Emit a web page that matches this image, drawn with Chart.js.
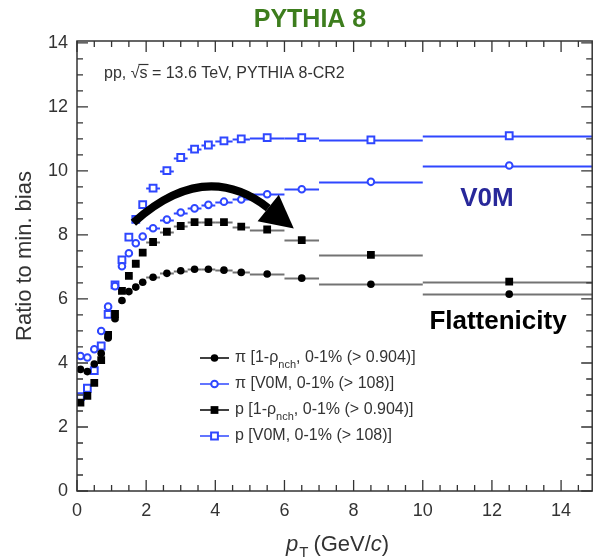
<!DOCTYPE html>
<html>
<head>
<meta charset="utf-8">
<script src="https://cdn.jsdelivr.net/npm/chart.js@4.4.0/dist/chart.umd.min.js"></script>
<style>
  html, body { margin: 0; padding: 0; background: #fff; }
  #caja { width: 599px; height: 557px; }
</style>
</head>
<body>
<div id="caja"><canvas id="miGrafica" width="599" height="557"></canvas></div>
<script>
// Bins de pT (GeV/c): centros y bordes
const ptCentros = [0.1, 0.3, 0.5, 0.7, 0.9, 1.1, 1.3, 1.5, 1.7, 1.9, 2.2, 2.6, 3.0, 3.4, 3.8, 4.25, 4.75, 5.5, 6.5, 8.5, 12.5];
const ptBordes = [0, 0.2, 0.4, 0.6, 0.8, 1.0, 1.2, 1.4, 1.6, 1.8, 2.0, 2.4, 2.8, 3.2, 3.6, 4.0, 4.5, 5.0, 6.0, 7.0, 10.0, 15.0];

// Cociente respecto a min. bias, una lista por serie
const piFlat = [3.80, 3.73, 3.97, 4.30, 4.78, 5.38, 5.95, 6.23, 6.37, 6.52, 6.68, 6.80, 6.88, 6.93, 6.93, 6.90, 6.83, 6.78, 6.65, 6.46, 6.15];
const piV0M = [4.22, 4.17, 4.43, 5.00, 5.76, 6.40, 7.02, 7.43, 7.74, 7.95, 8.21, 8.48, 8.70, 8.83, 8.94, 9.04, 9.11, 9.27, 9.43, 9.66, 10.17];
const pFlat = [2.76, 2.97, 3.38, 4.09, 4.88, 5.53, 6.25, 6.72, 7.10, 7.45, 7.78, 8.10, 8.28, 8.40, 8.40, 8.40, 8.26, 8.17, 7.84, 7.38, 6.54];
const pV0M = [2.95, 3.21, 3.76, 4.53, 5.52, 6.44, 7.22, 7.93, 8.49, 8.95, 9.46, 10.01, 10.42, 10.68, 10.81, 10.94, 11.00, 11.04, 11.04, 10.97, 11.10];

const ticksX = [0, 2, 4, 6, 8, 10, 12, 14];
const ticksY = [0, 2, 4, 6, 8, 10, 12, 14];

const etiquetas = [
  { pre: 'π [1-ρ', sub: 'nch', post: ', 0-1% (> 0.904)]' },
  { pre: 'π [V0M, 0-1% (> 108)]', sub: '', post: '' },
  { pre: 'p [1-ρ', sub: 'nch', post: ', 0-1% (> 0.904)]' },
  { pre: 'p [V0M, 0-1% (> 108)]', sub: '', post: '' }
];

const AZUL = '#2f47ff';
const NEGRO = '#000';
const FUENTE = "'Liberation Sans', Arial, Helvetica, sans-serif";

function puntos(valores) {
  return ptCentros.map((x, i) => ({ x: x, y: valores[i] }));
}

// Flecha curva (en unidades de los ejes)
const flecha = {
  inicio: [1.63, 8.38],
  control: [3.69, 10.39],
  fin: [5.53, 8.84],
  punta: [6.27, 8.20]
};

const series = [
  { data: puntos(piFlat), pointStyle: 'circle', pointRadius: 3.8, backgroundColor: NEGRO, borderColor: NEGRO, borderWidth: 0, barra: 'rgba(0,0,0,0.55)' },
  { data: puntos(piV0M), pointStyle: 'circle', pointRadius: 3.3, backgroundColor: '#fff', borderColor: AZUL, borderWidth: 2, barra: AZUL },
  { data: puntos(pFlat), pointStyle: 'rect', pointRadius: 5.5, backgroundColor: NEGRO, borderColor: NEGRO, borderWidth: 0, barra: 'rgba(0,0,0,0.55)' },
  { data: puntos(pV0M), pointStyle: 'rect', pointRadius: 4.8, backgroundColor: '#fff', borderColor: AZUL, borderWidth: 2, barra: AZUL }
];

function marcador(ctx, estilo, x, y) {
  ctx.save();
  ctx.beginPath();
  if (estilo.pointStyle === 'circle') {
    ctx.arc(x, y, estilo.pointRadius, 0, Math.PI * 2);
  } else {
    const s = estilo.pointRadius * Math.SQRT1_2;
    ctx.rect(x - s, y - s, 2 * s, 2 * s);
  }
  ctx.fillStyle = estilo.backgroundColor;
  ctx.fill();
  if (estilo.borderWidth > 0) {
    ctx.lineWidth = estilo.borderWidth;
    ctx.strokeStyle = estilo.borderColor;
    ctx.stroke();
  }
  ctx.restore();
}

// Barras horizontales = ancho del bin
const barrasPlugin = {
  id: 'barras',
  beforeDatasetsDraw(chart) {
    const { ctx, chartArea, scales } = chart;
    ctx.save();
    ctx.beginPath();
    ctx.rect(chartArea.left, chartArea.top, chartArea.right - chartArea.left, chartArea.bottom - chartArea.top);
    ctx.clip();
    ctx.lineWidth = 2;
    series.forEach(s => {
      ctx.strokeStyle = s.barra;
      s.data.forEach((p, i) => {
        const y = Math.round(scales.y.getPixelForValue(p.y)) + 0.5;
        ctx.beginPath();
        ctx.moveTo(scales.x.getPixelForValue(ptBordes[i]), y);
        ctx.lineTo(scales.x.getPixelForValue(ptBordes[i + 1]), y);
        ctx.stroke();
      });
    });
    ctx.restore();
  }
};

// Marco, marcas de los ejes, textos, flecha y leyenda
const marcoPlugin = {
  id: 'marco',
  afterDraw(chart) {
    const { ctx, chartArea: a, scales } = chart;
    const sx = scales.x, sy = scales.y;
    ctx.save();
    ctx.strokeStyle = '#333';
    ctx.lineWidth = 1.5;
    ctx.strokeRect(a.left, a.top, a.right - a.left, a.bottom - a.top);
    ctx.lineWidth = 1.3;
    ctx.beginPath();
    for (let v = 0; v <= 14.0001; v += 0.5) {
      const y = sy.getPixelForValue(v);
      const l = (v % 2 === 0) ? 11 : 6;
      ctx.moveTo(a.left, y); ctx.lineTo(a.left + l, y);
      ctx.moveTo(a.right, y); ctx.lineTo(a.right - l, y);
    }
    for (let v = 0; v <= 14.9; v += 0.5) {
      const x = sx.getPixelForValue(v);
      const l = (v % 2 === 0) ? 11 : 6;
      ctx.moveTo(x, a.bottom); ctx.lineTo(x, a.bottom - l);
      ctx.moveTo(x, a.top); ctx.lineTo(x, a.top + l);
    }
    ctx.stroke();

    // flecha
    const px = p => [sx.getPixelForValue(p[0]), sy.getPixelForValue(p[1])];
    const p0 = px(flecha.inicio), pc = px(flecha.control), p2 = px(flecha.fin), pt = px(flecha.punta);
    ctx.strokeStyle = '#000';
    ctx.lineWidth = 8;
    ctx.lineCap = 'butt';
    ctx.beginPath();
    ctx.moveTo(p0[0], p0[1]);
    ctx.quadraticCurveTo(pc[0], pc[1], p2[0], p2[1]);
    ctx.stroke();
    const dx = pt[0] - p2[0], dy = pt[1] - p2[1];
    const len = Math.hypot(dx, dy);
    const nx = -dy / len, ny = dx / len, w = 17;
    ctx.fillStyle = '#000';
    ctx.beginPath();
    ctx.moveTo(pt[0], pt[1]);
    ctx.lineTo(p2[0] + nx * w, p2[1] + ny * w);
    ctx.lineTo(p2[0] - nx * w, p2[1] - ny * w);
    ctx.closePath();
    ctx.fill();

    // titulo
    ctx.textBaseline = 'alphabetic';
    ctx.textAlign = 'center';
    ctx.fillStyle = '#3d7d1d';
    ctx.font = 'bold 25px ' + FUENTE;
    ctx.fillText('PYTHIA 8', 310, 27);

    // texto del sistema
    ctx.textAlign = 'left';
    ctx.fillStyle = '#333';
    ctx.font = '16px ' + FUENTE;
    let x = 104;
    const yb = 78;
    ctx.fillText('pp, ', x, yb); x += ctx.measureText('pp, ').width;
    ctx.fillText('√', x, yb); x += ctx.measureText('√').width;
    const ws = ctx.measureText('s').width;
    ctx.fillText('s', x, yb);
    ctx.lineWidth = 1.2;
    ctx.strokeStyle = '#333';
    ctx.beginPath(); ctx.moveTo(x - 1, yb - 13.5); ctx.lineTo(x + ws + 1, yb - 13.5); ctx.stroke();
    x += ws;
    ctx.fillText(' = 13.6 TeV, PYTHIA 8-CR2', x, yb);

    // V0M y Flattenicity
    ctx.textAlign = 'center';
    ctx.fillStyle = '#28289a';
    ctx.font = 'bold 26px ' + FUENTE;
    ctx.fillText('V0M', 487, 206);
    ctx.fillStyle = '#000';
    ctx.font = 'bold 26px ' + FUENTE;
    ctx.fillText('Flattenicity', 498, 329);

    // titulos de los ejes
    ctx.fillStyle = '#333';
    ctx.font = '22px ' + FUENTE;
    ctx.save();
    ctx.translate(31, 256);
    ctx.rotate(-Math.PI / 2);
    ctx.textAlign = 'center';
    ctx.fillText('Ratio to min. bias', 0, 0);
    ctx.restore();

    ctx.textAlign = 'left';
    let tx = 286;
    const ty = 551;
    ctx.font = 'italic 22px ' + FUENTE;
    ctx.fillText('p', tx, ty); tx += ctx.measureText('p').width;
    ctx.font = '15px ' + FUENTE;
    ctx.fillText('T', tx + 1, ty + 6); tx += ctx.measureText('T').width + 6;
    ctx.font = '22px ' + FUENTE;
    ctx.fillText('(GeV/', tx, ty); tx += ctx.measureText('(GeV/').width;
    ctx.font = 'italic 22px ' + FUENTE;
    ctx.fillText('c', tx, ty); tx += ctx.measureText('c').width;
    ctx.font = '22px ' + FUENTE;
    ctx.fillText(')', tx, ty);

    // leyenda
    const filas = [358, 384, 410, 436];
    filas.forEach((yf, i) => {
      const s = series[i];
      ctx.strokeStyle = s.barra === AZUL ? AZUL : '#000';
      ctx.lineWidth = 1.5;
      ctx.beginPath(); ctx.moveTo(200, yf); ctx.lineTo(229, yf); ctx.stroke();
      marcador(ctx, s, 214.5, yf);
      const e = etiquetas[i];
      let lx = 235;
      ctx.fillStyle = '#333';
      ctx.textBaseline = 'middle';
      ctx.font = '16px ' + FUENTE;
      ctx.fillText(e.pre, lx, yf); lx += ctx.measureText(e.pre).width;
      if (e.sub) {
        ctx.font = '11px ' + FUENTE;
        ctx.fillText(e.sub, lx, yf + 7); lx += ctx.measureText(e.sub).width;
        ctx.font = '16px ' + FUENTE;
        ctx.fillText(e.post, lx, yf);
      }
    });
    ctx.restore();
  }
};

new Chart(document.getElementById('miGrafica').getContext('2d'), {
  type: 'scatter',
  data: { datasets: series },
  options: {
    responsive: false,
    devicePixelRatio: 1,
    animation: false,
    layout: { padding: { top: 41, right: 1, left: 0, bottom: 0 } },
    plugins: { legend: { display: false }, tooltip: { enabled: false } },
    scales: {
      x: {
        type: 'linear', min: 0, max: 14.9,
        grid: { display: false, drawTicks: false },
        border: { display: false },
        ticks: {
          stepSize: 2, includeBounds: false, padding: 9, color: '#333',
          font: { family: FUENTE, size: 18 },
          callback: v => ticksX.includes(v) ? v : ''
        },
        afterFit: s => { s.height = 66; }
      },
      y: {
        type: 'linear', min: 0, max: 14.06,
        grid: { display: false, drawTicks: false },
        border: { display: false },
        ticks: {
          stepSize: 2, includeBounds: false, padding: 9, color: '#333',
          font: { family: FUENTE, size: 18 },
          callback: v => ticksY.includes(v) ? v : ''
        },
        afterFit: s => { s.width = 77; }
      }
    }
  },
  plugins: [barrasPlugin, marcoPlugin]
});
</script>
</body>
</html>
